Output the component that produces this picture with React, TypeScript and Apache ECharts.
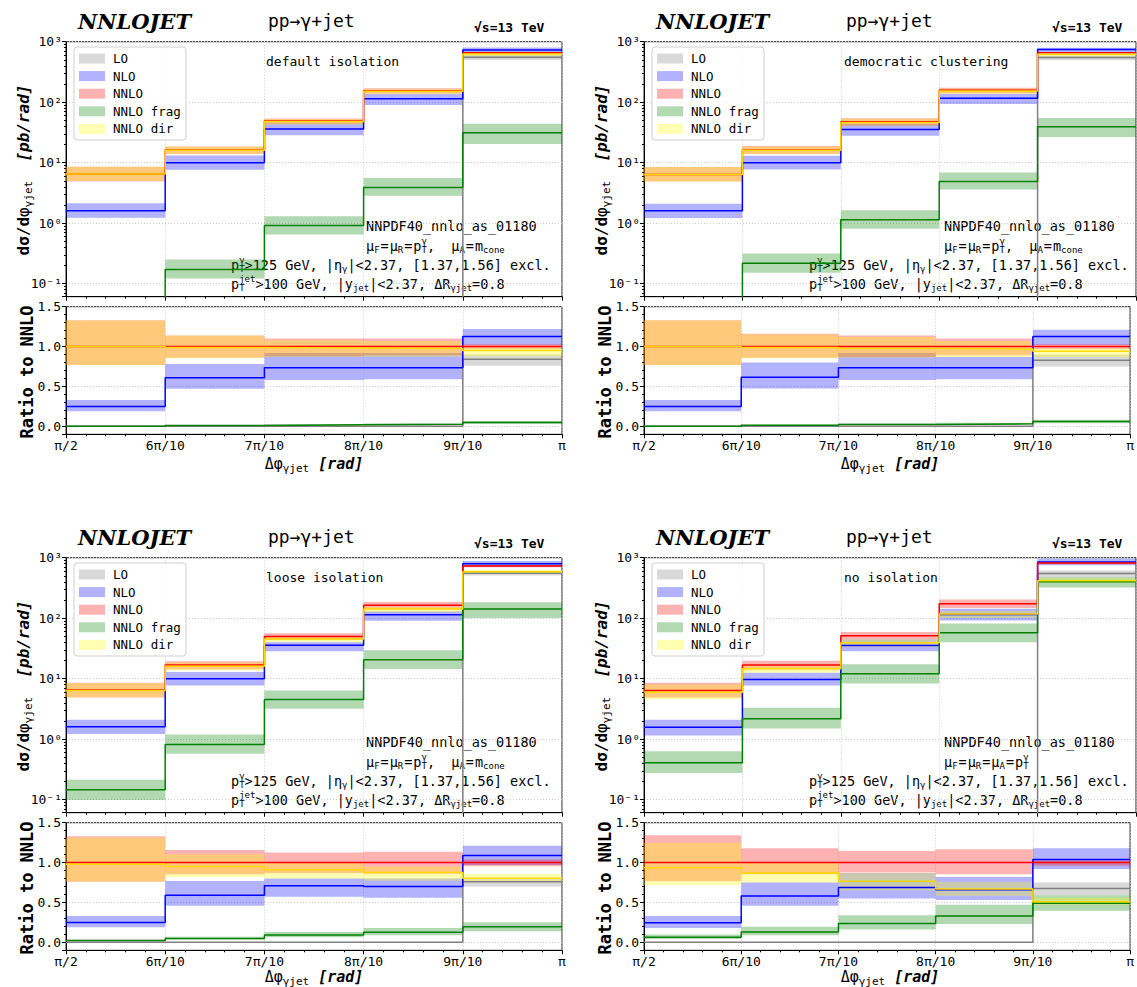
import React, { useEffect, useRef } from "react";
import * as echarts from "echarts";

// ---------- data ----------
// bin edges in units of pi/10
const EDGES = [5, 6, 7, 8, 9, 10];
const X_TICKS = ["π/2", "6π/10", "7π/10", "8π/10", "9π/10", "π"];
const SERIES_NAMES = ["LO", "NLO", "NNLO", "NNLO frag", "NNLO dir"];
const PANEL_LABELS = ["default isolation", "democratic clustering", "loose isolation", "no isolation"];

// each row: [central, low, high] per bin, absolute dσ/dΔφ [pb/rad]
const A_LO = [[0, 0, 0], [0, 0, 0], [0, 0, 0], [0, 0, 0], [551, 498, 600]];
const A_NLO = [[1.61, 1.23, 2.13], [10.0, 7.65, 13.1], [36, 28.3, 44.7], [114, 90, 136], [728, 641, 805]];
const A_NNLO = [[6.5, 4.9, 8.6], [16.2, 13.9, 18.6], [48.9, 43.5, 53.8], [155, 138, 170], [658, 638, 678]];
const A_FRAG = [[0, 0, 0], [0.172, 0.122, 0.252], [0.92, 0.65, 1.3], [3.9, 2.85, 5.6], [31.3, 20.4, 44]];
const A_DIR = [[6.5, 5.0, 8.6], [16.0, 13.8, 18.5], [48.0, 42.5, 52.8], [151, 135, 166], [626, 579, 651]];
// ratio to NNLO
const A_LO_R = [[0, 0, 0], [0, 0, 0], [0, 0, 0], [0, 0, 0], [0.84, 0.76, 0.9]];
const A_NLO_R = [[0.25, 0.19, 0.33], [0.61, 0.47, 0.78], [0.735, 0.58, 0.92], [0.735, 0.59, 0.92], [1.125, 1.02, 1.22]];
const A_NNLO_R = [[1, 0.77, 1.33], [1, 0.86, 1.14], [1, 0.88, 1.1], [1, 0.89, 1.1], [1, 0.97, 1.03]];
const A_FRAG_R = [[0, 0, 0], [0.011, 0.008, 0.016], [0.019, 0.013, 0.027], [0.025, 0.018, 0.036], [0.048, 0.031, 0.067]];
const A_DIR_R = [[1, 0.77, 1.33], [0.989, 0.85, 1.14], [0.981, 0.87, 1.08], [0.975, 0.87, 1.07], [0.952, 0.88, 0.99]];

const B_LO = [[0, 0, 0], [0, 0, 0], [0, 0, 0], [0, 0, 0], [546, 494, 592]];
const B_NLO = [[1.6, 1.22, 2.1], [10.0, 7.7, 13.0], [35.5, 28, 44], [116, 93, 138], [740, 671, 796]];
const B_NNLO = [[6.4, 4.9, 8.5], [16.2, 13.9, 18.8], [47.5, 41.3, 54.2], [158, 140, 174], [658, 638, 678]];
const B_FRAG = [[0, 0, 0], [0.217, 0.152, 0.317], [1.14, 0.81, 1.63], [4.9, 3.6, 6.9], [39.4, 26.5, 54.7]];
const B_DIR = [[6.4, 4.9, 8.5], [16.0, 13.8, 18.6], [46.4, 40.8, 53.2], [153, 137, 169], [619, 572, 645]];
const B_LO_R = [[0, 0, 0], [0, 0, 0], [0, 0, 0], [0, 0, 0], [0.83, 0.75, 0.9]];
const B_NLO_R = [[0.25, 0.19, 0.33], [0.615, 0.475, 0.8], [0.735, 0.58, 0.92], [0.735, 0.59, 0.87], [1.125, 1.02, 1.21]];
const B_NNLO_R = [[1, 0.77, 1.33], [1, 0.86, 1.16], [1, 0.87, 1.14], [1, 0.89, 1.1], [1, 0.97, 1.03]];
const B_FRAG_R = [[0, 0, 0], [0.013, 0.009, 0.02], [0.024, 0.017, 0.034], [0.031, 0.023, 0.044], [0.06, 0.04, 0.083]];
const B_DIR_R = [[1, 0.77, 1.33], [0.987, 0.85, 1.15], [0.976, 0.86, 1.12], [0.969, 0.87, 1.07], [0.94, 0.87, 0.98]];

const C_LO = [[0, 0, 0], [0, 0, 0], [0, 0, 0], [0, 0, 0], [553, 510, 582]];
const C_NLO = [[1.61, 1.22, 2.1], [10.0, 7.7, 12.9], [35.6, 28.5, 40], [114, 91, 130], [794, 706, 881]];
const C_NNLO = [[6.5, 4.9, 8.6], [16.8, 14.3, 19.5], [50, 43.5, 56.3], [163, 140, 185], [728, 695, 757]];
const C_FRAG = [[0.146, 0.099, 0.214], [0.82, 0.575, 1.2], [4.55, 3.2, 6.4], [20.6, 14.5, 29.4], [142, 101, 183]];
const C_DIR = [[6.36, 4.94, 8.5], [16.0, 13.7, 18.5], [45.5, 40, 50], [142, 125, 155], [586, 561, 626]];
const C_LO_R = [[0, 0, 0], [0, 0, 0], [0, 0, 0], [0, 0, 0], [0.76, 0.7, 0.8]];
const C_NLO_R = [[0.25, 0.19, 0.33], [0.59, 0.46, 0.77], [0.71, 0.57, 0.8], [0.7, 0.56, 0.8], [1.09, 0.97, 1.21]];
const C_NNLO_R = [[1, 0.76, 1.33], [1, 0.854, 1.158], [1, 0.87, 1.125], [1, 0.86, 1.135], [1, 0.955, 1.04]];
const C_FRAG_R = [[0.022, 0.015, 0.033], [0.049, 0.034, 0.071], [0.091, 0.064, 0.128], [0.126, 0.089, 0.18], [0.195, 0.139, 0.251]];
const C_DIR_R = [[0.978, 0.76, 1.31], [0.951, 0.817, 1.104], [0.91, 0.8, 1.0], [0.874, 0.77, 0.95], [0.805, 0.77, 0.86]];

const D_LO = [[0, 0, 0], [0, 0, 0], [0, 0, 0], [0, 0, 0], [550, 481, 612]];
const D_NLO = [[1.58, 1.15, 2.1], [9.7, 7.7, 12.6], [35.3, 28.3, 44.7], [115, 92, 143], [849, 751, 963]];
const D_NNLO = [[6.4, 4.9, 8.6], [16.8, 14.3, 19.8], [51.4, 44.9, 58.9], [174, 148, 203], [816, 783, 840]];
const D_FRAG = [[0.41, 0.276, 0.63], [2.18, 1.5, 3.3], [12.1, 8.3, 17.4], [57.5, 40, 82], [400, 322, 481]];
const D_DIR = [[6.0, 4.58, 8.0], [14.6, 12.6, 16.8], [39.3, 33.4, 44.7], [117, 101, 132], [416, 384, 457]];
const D_LO_R = [[0, 0, 0], [0, 0, 0], [0, 0, 0], [0, 0, 0], [0.674, 0.59, 0.75]];
const D_NLO_R = [[0.247, 0.18, 0.33], [0.58, 0.46, 0.75], [0.686, 0.55, 0.87], [0.66, 0.53, 0.82], [1.04, 0.92, 1.18]];
const D_NNLO_R = [[1, 0.766, 1.343], [1, 0.853, 1.18], [1, 0.874, 1.146], [1, 0.853, 1.167], [1, 0.96, 1.03]];
const D_FRAG_R = [[0.064, 0.043, 0.098], [0.13, 0.089, 0.196], [0.235, 0.161, 0.339], [0.33, 0.23, 0.47], [0.49, 0.395, 0.59]];
const D_DIR_R = [[0.936, 0.715, 1.25], [0.87, 0.75, 1.0], [0.765, 0.65, 0.87], [0.67, 0.58, 0.76], [0.51, 0.47, 0.56]];

const PANELS = [
  { abs: [A_LO, A_NLO, A_NNLO, A_FRAG, A_DIR], ratio: [A_LO_R, A_NLO_R, A_NNLO_R, A_FRAG_R, A_DIR_R] },
  { abs: [B_LO, B_NLO, B_NNLO, B_FRAG, B_DIR], ratio: [B_LO_R, B_NLO_R, B_NNLO_R, B_FRAG_R, B_DIR_R] },
  { abs: [C_LO, C_NLO, C_NNLO, C_FRAG, C_DIR], ratio: [C_LO_R, C_NLO_R, C_NNLO_R, C_FRAG_R, C_DIR_R] },
  { abs: [D_LO, D_NLO, D_NNLO, D_FRAG, D_DIR], ratio: [D_LO_R, D_NLO_R, D_NNLO_R, D_FRAG_R, D_DIR_R] },
];

// ---------- styles / layout ----------
const LINE_COLORS = ["#808080", "#0000ff", "#ff0000", "#008000", "#ffd800"];
const BAND_COLORS = [
  "rgba(128,128,128,0.3)",
  "rgba(0,0,255,0.3)",
  "rgba(255,0,0,0.3)",
  "rgba(0,128,0,0.3)",
  "rgba(255,255,0,0.3)",
];
const FONT = '"DejaVu Sans Mono", "Liberation Mono", monospace';
const LAYOUT = [
  { ox: 0, oy: 0, left: 66, width: 496 },
  { ox: 578, oy: 0, left: 644, width: 492 },
  { ox: 0, oy: 516, left: 66, width: 496 },
  { ox: 578, oy: 516, left: 644, width: 492 },
];
const TOP_Y = 41.7;
const TOP_H = 255;
const R_Y = 306.7;
const R_H = 127.6;
const LOG_MIN = 0.061;
const FLOOR = 1e-4;

const SUP: Record<string, string> = { "-": "⁻", "0": "⁰", "1": "¹", "2": "²", "3": "³" };

type Tok = { t: string; sub?: string; sup?: string; b?: boolean; i?: boolean; dx?: number };

function mathRow(tokens: Tok[], size: number, align: "left" | "center") {
  const cw = 0.602 * size;
  const ss = Math.round(size * 0.7);
  const scw = 0.602 * ss;
  const els: any[] = [];
  let x = 0;
  const mk = (text: string, px: number, py: number, font: string) => ({
    type: "text",
    style: {
      text, x: px, y: py, font, fill: "#000",
      textAlign: "left", textVerticalAlign: "middle", align: "left", verticalAlign: "middle",
    },
  });
  for (const tk of tokens) {
    x += tk.dx || 0;
    const font = `${tk.i ? "italic " : ""}${tk.b ? "bold " : ""}${size}px ${FONT}`;
    const sfont = `${ss}px ${FONT}`;
    els.push(mk(tk.t, x, 0, font));
    x += tk.t.length * cw;
    let w = 0;
    if (tk.sub) {
      els.push(mk(tk.sub, x, size * 0.32, sfont));
      w = tk.sub.length * scw;
    }
    if (tk.sup) {
      els.push(mk(tk.sup, x, -size * 0.4, sfont));
      w = Math.max(w, tk.sup.length * scw);
    }
    x += w;
  }
  if (align === "center") {
    els.forEach((e) => (e.style.x -= x / 2));
  }
  return els;
}

function bandSeries(axisIdx: number, rows: number[][], color: string) {
  const data = rows
    .map((r, b) => [EDGES[b], EDGES[b + 1], r[1], r[2]])
    .filter((d) => d[3] > 0);
  return {
    type: "custom",
    xAxisIndex: axisIdx,
    yAxisIndex: axisIdx,
    clip: true,
    silent: true,
    z: 2,
    encode: { x: [0, 1], y: [2, 3] },
    data,
    renderItem: (_p: any, api: any) => {
      const a = api.coord([api.value(0), api.value(3)]);
      const b = api.coord([api.value(1), api.value(2)]);
      return {
        type: "rect",
        shape: { x: a[0], y: a[1], width: b[0] - a[0], height: b[1] - a[1] },
        style: { fill: color },
      };
    },
  };
}

function stepSeries(axisIdx: number, rows: number[][], color: string, isLog: boolean) {
  const data = EDGES.map((e, k) => {
    const v = rows[Math.min(k, rows.length - 1)][0];
    return [e, isLog && v <= 0 ? FLOOR : v];
  });
  return {
    type: "line",
    step: "end",
    xAxisIndex: axisIdx,
    yAxisIndex: axisIdx,
    data,
    symbol: "none",
    showSymbol: false,
    clip: true,
    silent: true,
    z: 3,
    lineStyle: { color, width: 1.5 },
  };
}

function buildOption() {
  const grids: any[] = [];
  const xAxes: any[] = [];
  const yAxes: any[] = [];
  const series: any[] = [];
  const graphics: any[] = [];

  const splitLine = { show: true, lineStyle: { color: "#cccccc", type: [1, 2], width: 1 } };
  const axisLineStyle = { color: "#000", width: 1 };

  LAYOUT.forEach((L, p) => {
    const { ox, oy, left, width } = L;
    const gTop = 2 * p;
    const gRat = 2 * p + 1;
    [
      { top: oy + TOP_Y, height: TOP_H },
      { top: oy + R_Y, height: R_H },
    ].forEach((g) =>
      grids.push({
        left, width, top: g.top, height: g.height,
        show: true, borderColor: "#222", borderWidth: 1, backgroundColor: "rgba(0,0,0,0)",
      })
    );
    [gTop, gRat].forEach((gi) => {
      const isRatio = gi === gRat;
      xAxes.push({
        gridIndex: gi, type: "value", min: 5, max: 10, interval: 1,
        axisLine: { show: true, onZero: false, lineStyle: axisLineStyle },
        axisTick: { show: true, inside: false, length: 4, lineStyle: axisLineStyle },
        minorTick: { show: true, splitNumber: 5, length: 2, lineStyle: axisLineStyle },
        axisLabel: {
          show: isRatio, margin: 5, fontFamily: FONT, fontSize: 13, color: "#000",
          formatter: (v: number) => X_TICKS[Math.round(v) - 5] || "",
        },
        splitLine,
      });
    });
    yAxes.push({
      gridIndex: gTop, type: "log", logBase: 10, min: LOG_MIN, max: 1000,
      axisLine: { show: true, onZero: false, lineStyle: axisLineStyle },
      axisTick: { show: true, length: 4, lineStyle: axisLineStyle },
      minorTick: { show: true, splitNumber: 9, length: 2, lineStyle: axisLineStyle },
      axisLabel: {
        margin: 4, fontFamily: FONT, fontSize: 13, color: "#000",
        formatter: (v: number) => {
          const e = Math.log10(v);
          const r = Math.round(e);
          if (Math.abs(e - r) > 1e-6) return "";
          return "10" + String(r).split("").map((c) => SUP[c] || c).join("");
        },
      },
      splitLine,
    });
    yAxes.push({
      gridIndex: gRat, type: "value", min: -0.1, max: 1.5, splitNumber: 3,
      minInterval: 0.5, maxInterval: 0.5,
      axisLine: { show: true, onZero: false, lineStyle: axisLineStyle },
      axisTick: { show: true, length: 4, lineStyle: axisLineStyle },
      minorTick: { show: true, splitNumber: 5, length: 2, lineStyle: axisLineStyle },
      axisLabel: {
        margin: 5, fontFamily: FONT, fontSize: 13, color: "#000",
        formatter: (v: number) => (Math.abs(v * 2 - Math.round(v * 2)) < 1e-6 ? (Math.abs(v) < 1e-9 ? "0.0" : v.toFixed(1)) : ""),
      },
      splitLine,
    });

    const P = PANELS[p];
    // bands then lines
    for (let s = 0; s < 5; s++) series.push(bandSeries(gTop, P.abs[s], BAND_COLORS[s]));
    for (let s = 0; s < 5; s++) series.push(stepSeries(gTop, P.abs[s], LINE_COLORS[s], true));
    for (let s = 0; s < 5; s++) series.push(bandSeries(gRat, P.ratio[s], BAND_COLORS[s]));
    for (let s = 0; s < 5; s++) series.push(stepSeries(gRat, P.ratio[s], LINE_COLORS[s], false));

    // ----- texts -----
    const txt = (text: string, x: number, y: number, font: string, align = "left") => ({
      type: "text", z: 20, silent: true,
      style: {
        text, x, y, font, fill: "#000",
        textAlign: align, textVerticalAlign: "middle", align, verticalAlign: "middle",
      },
    });
    graphics.push(txt("NNLOJET", ox + 78, oy + 21, `italic bold 21px "DejaVu Serif", serif`));
    graphics.push(txt("pp→γ+jet", ox + 268, oy + 20, `18px ${FONT}`));
    graphics.push(txt("√s=13 TeV", ox + 474, oy + 27, `bold 13px ${FONT}`));
    graphics.push(txt(PANEL_LABELS[p], ox + 266, oy + 61, `13px ${FONT}`));

    // legend
    graphics.push({
      type: "rect", z: 15, silent: true,
      shape: { x: ox + 74, y: oy + 47, width: 112, height: 93, r: 3 },
      style: { fill: "rgba(255,255,255,0.8)", stroke: "#cfcfcf", lineWidth: 1 },
    });
    SERIES_NAMES.forEach((name, k) => {
      const cy = oy + 58.5 + 17.6 * k;
      graphics.push({
        type: "rect", z: 16, silent: true,
        shape: { x: ox + 79, y: cy - 5, width: 26, height: 10 },
        style: { fill: BAND_COLORS[k] },
      });
      graphics.push(txt(name, ox + 113, cy, `12.5px ${FONT}`));
    });

    // info block
    const info: { x: number; y: number; toks: Tok[] }[] = [
      { x: ox + 366, y: oy + 226, toks: [{ t: "NNPDF40_nnlo_as_01180" }] },
      {
        x: ox + 366, y: oy + 246,
        toks:
          p === 3
            ? [
                { t: "μ", sub: "F" }, { t: "=", dx: 1 }, { t: "μ", sub: "R", dx: 1 }, { t: "=", dx: 1 },
                { t: "μ", sub: "A", dx: 1 }, { t: "=", dx: 1 }, { t: "p", sub: "T", sup: "γ", dx: 1 },
              ]
            : [
                { t: "μ", sub: "F" }, { t: "=", dx: 1 }, { t: "μ", sub: "R", dx: 1 }, { t: "=", dx: 1 },
                { t: "p", sub: "T", sup: "γ", dx: 1 }, { t: ",  " }, { t: "μ", sub: "A" }, { t: "=", dx: 1 },
                { t: "m", sub: "cone", dx: 1 },
              ],
      },
      {
        x: ox + 231, y: oy + 265,
        toks: [{ t: "p", sub: "T", sup: "γ" }, { t: ">125 GeV, |η", sub: "γ" }, { t: "|<2.37, [1.37,1.56] excl." }],
      },
      {
        x: ox + 231, y: oy + 284,
        toks: [{ t: "p", sub: "T", sup: "jet" }, { t: ">100 GeV, |y", sub: "jet" }, { t: "|<2.37, ΔR", sub: "γjet" }, { t: "=0.8" }],
      },
    ];
    info.forEach((ln) =>
      graphics.push({ type: "group", x: ln.x, y: ln.y, z: 20, silent: true, children: mathRow(ln.toks, 13.5, "left") })
    );

    // axis titles
    graphics.push({
      type: "group", x: ox + 23, y: oy + 170, rotation: Math.PI / 2, z: 20, silent: true,
      children: mathRow(
        [{ t: "dσ/d", b: true }, { t: "φ", sub: "γjet" }, { t: "  " }, { t: "[pb/rad]", b: true, i: true }],
        16, "center"
      ),
    });
    graphics.push({
      type: "group", x: ox + 27, y: oy + 372, rotation: Math.PI / 2, z: 20, silent: true,
      children: mathRow([{ t: "Ratio to NNLO", b: true }], 17, "center"),
    });
    graphics.push({
      type: "group", x: left + width / 2, y: Math.min(oy + 464, 977), z: 20, silent: true,
      children: mathRow([{ t: "Δφ", sub: "γjet" }, { t: " " }, { t: "[rad]", b: true, i: true }], 15, "center"),
    });
  });

  return {
    animation: false,
    backgroundColor: "#fff",
    grid: grids,
    xAxis: xAxes,
    yAxis: yAxes,
    series,
    graphic: { elements: graphics },
  };
}

export default function App() {
  const ref = useRef<HTMLDivElement>(null);
  useEffect(() => {
    if (!ref.current) return;
    const chart = echarts.init(ref.current, undefined, { renderer: "svg" });
    chart.setOption(buildOption() as any);
    return () => chart.dispose();
  }, []);
  return (
    <div
      ref={ref}
      style={{ position: "absolute", left: 0, top: 0, width: 1137, height: 987, background: "#fff" }}
    />
  );
}
